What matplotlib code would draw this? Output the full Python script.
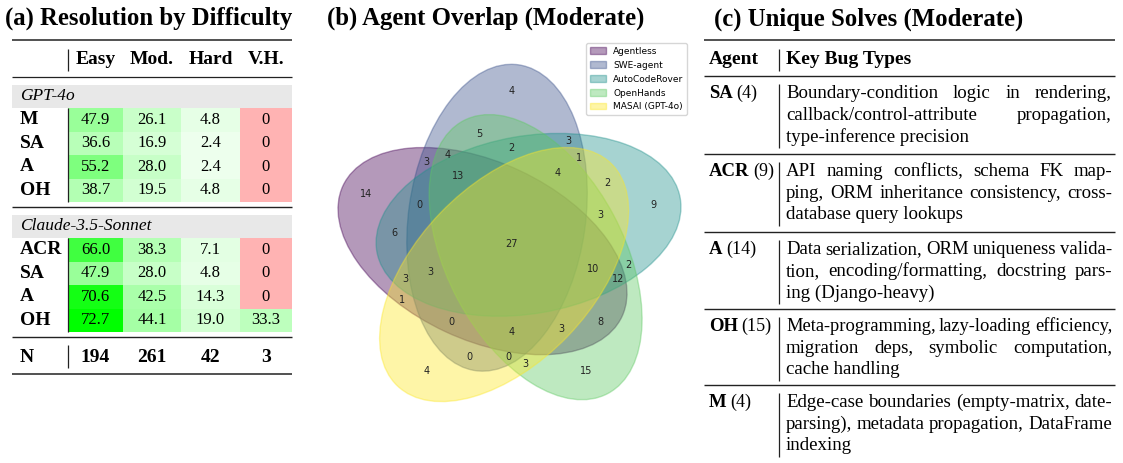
import numpy as np
import matplotlib
matplotlib.use('Agg')
import matplotlib.pyplot as plt
from matplotlib.patches import Rectangle, Ellipse, Patch

# ---- (a) resolution rates by difficulty ----
difficulties = ['Easy', 'Mod.', 'Hard', 'V.H.']
gpt_agents = ['M', 'SA', 'A', 'OH']
gpt_rates = [[47.9, 26.1, 4.8, 0], [36.6, 16.9, 2.4, 0],
             [55.2, 28.0, 2.4, 0], [38.7, 19.5, 4.8, 0]]
claude_agents = ['ACR', 'SA', 'A', 'OH']
claude_rates = [[66.0, 38.3, 7.1, 0], [47.9, 28.0, 4.8, 0],
                [70.6, 42.5, 14.3, 0], [72.7, 44.1, 19.0, 33.3]]
n_tasks = [194, 261, 42, 3]

# ---- (b) venn overlap (region key: Agentless, SWE, ACR, OH, MASAI) ----
venn_names = ['Agentless', 'SWE-agent', 'AutoCodeRover', 'OpenHands', 'MASAI (GPT-4o)']
venn_counts = {
    '00001': 4, '00010': 15, '00011': 3, '00100': 9, '00101': 2, '00110': 2,
    '00111': 3, '01000': 4, '01001': 0, '01010': 5, '01011': 0, '01100': 3,
    '01101': 1, '01110': 2, '01111': 4, '10000': 14, '10001': 1, '10010': 8,
    '10011': 3, '10100': 6, '10101': 3, '10110': 12, '10111': 10, '11000': 3,
    '11001': 0, '11010': 4, '11011': 4, '11100': 0, '11101': 3, '11110': 13,
    '11111': 27,
}

# ---- (c) unique solves ----
unique_agents = ['SA', 'ACR', 'A', 'OH', 'M']
unique_counts = [4, 9, 14, 15, 4]
unique_lines = [
    ['Boundary-condition logic in rendering,',
     'callback/control-attribute propagation,',
     'type-inference precision'],
    ['API naming conflicts, schema FK map-',
     'ping, ORM inheritance consistency, cross-',
     'database query lookups'],
    ['Data serialization, ORM uniqueness valida-',
     'tion, encoding/formatting, docstring pars-',
     'ing (Django-heavy)'],
    ['Meta-programming, lazy-loading efficiency,',
     'migration deps, symbolic computation,',
     'cache handling'],
    ['Edge-case boundaries (empty-matrix, date-',
     'parsing), metadata propagation, DataFrame',
     'indexing'],
]

plt.rcParams['font.family'] = 'Liberation Serif'

W, H = 1123, 463
fig = plt.figure(figsize=(W / 100, H / 100), dpi=100)
ax = fig.add_axes([0, 0, 1, 1])
ax.set_xlim(0, W)
ax.set_ylim(H, 0)
ax.axis('off')
renderer = fig.canvas.get_renderer()
RULE = '#222222'
fs_num = 12      # numbers in table (a)
fs_bold = 14     # bold labels / headers
fs_ital = 12.5   # group names
fs_title = 17.8
fs_c = 13.6      # body text of table (c)


def text_width(s, **kw):
    t = ax.text(0, 0, s, **kw)
    w = t.get_window_extent(renderer).width
    t.remove()
    return w


def cell_color(v):
    if v == 0:
        return (1.0, 0.70, 0.70)
    k = np.interp(v, [0, 5, 20, 28, 38, 45, 55, 66, 72.7],
                  [0.04, 0.10, 0.18, 0.22, 0.29, 0.36, 0.5, 0.75, 1.0])
    return (1 - k, 1.0, 1 - k)


def fmt(v):
    return '0' if v == 0 else f'{v:.1f}'


def justify(x0, x1, y, line, fs, min_gap=4.0):
    words = line.split(' ')
    widths = [text_width(w, fontsize=fs) for w in words]
    room = x1 - x0 - min_gap * (len(words) - 1)
    if sum(widths) > room:
        fs = fs * room / sum(widths)
        widths = [text_width(w, fontsize=fs) for w in words]
    gap = (x1 - x0 - sum(widths)) / (len(words) - 1)
    x = x0
    for w, wd in zip(words, widths):
        ax.text(x, y, w, fontsize=fs, va='center')
        x += wd + gap


# ---------------- panel (a) ----------------
TA_L, TA_R = 12, 292
col_edges = [68, 123, 181, 240, 292]
row_h = 23.5
ax.text(5, 18, '(a) Resolution by Difficulty', fontsize=fs_title, fontweight='bold', va='center')
ax.hlines(40, TA_L, TA_R, lw=1.1, color=RULE)
for j, d in enumerate(difficulties):
    ax.text((col_edges[j] + col_edges[j + 1]) / 2, 60, d, ha='center', va='center',
            fontweight='bold', fontsize=fs_bold)
ax.vlines(68, 49, 71, lw=0.9, color=RULE)
ax.hlines(77, TA_L, TA_R, lw=0.9, color=RULE)

groups = [('GPT-4o', gpt_agents, gpt_rates, 85, 207),
          ('Claude-3.5-Sonnet', claude_agents, claude_rates, 215, 337)]
for gname, agents, rates, top, rule_y in groups:
    ax.add_patch(Rectangle((TA_L, top), TA_R - TA_L, 23, color='#e8e8e8', lw=0))
    ax.text(20, top + 11.5, gname, style='italic', fontsize=fs_ital, va='center')
    y0 = top + 23
    for i, (agent, vals) in enumerate(zip(agents, rates)):
        y = y0 + i * row_h
        ax.text(20, y + row_h / 2, agent, fontweight='bold', fontsize=fs_bold, va='center')
        for j, v in enumerate(vals):
            ax.add_patch(Rectangle((col_edges[j], y), col_edges[j + 1] - col_edges[j], row_h,
                                   color=cell_color(v), lw=0))
            ax.text((col_edges[j] + col_edges[j + 1]) / 2, y + row_h / 2, fmt(v),
                    ha='center', va='center', fontsize=fs_num)
    ax.vlines(68, y0, y0 + 4 * row_h, lw=0.9, color=RULE)
    ax.hlines(rule_y, TA_L, TA_R, lw=1.0, color=RULE)

ax.text(20, 357, 'N', fontweight='bold', fontsize=fs_bold, va='center')
for j, n in enumerate(n_tasks):
    ax.text((col_edges[j] + col_edges[j + 1]) / 2, 357, str(n), ha='center', va='center',
            fontweight='bold', fontsize=fs_bold)
ax.vlines(68, 345, 368, lw=0.9, color=RULE)
ax.hlines(374, TA_L, TA_R, lw=1.1, color=RULE)

# ---------------- panel (b) ----------------
ax.text(486, 18, '(b) Agent Overlap (Moderate)', fontsize=fs_title, fontweight='bold',
        va='center', ha='center')
vax = fig.add_axes([331 / W, (H - 410.5) / H, 354 / W, 355 / H])
vax.set_xlim(0, 1)
vax.set_ylim(0, 1)
vax.axis('off')
venn_colors = [(*c[:3], 0.4) for c in plt.cm.viridis(np.linspace(0, 1, 5))]
ellipses = [(0.428, 0.449, 155.0), (0.469, 0.543, 82.0), (0.558, 0.523, 10.0),
            (0.578, 0.432, 118.0), (0.489, 0.383, 46.0)]
for (cx, cy, ang), c in zip(ellipses, venn_colors):
    vax.add_patch(Ellipse((cx, cy), 0.87, 0.50, angle=ang, color=c))
label_pos = {
    '00001': (0.27, 0.11), '00010': (0.72, 0.11), '00011': (0.55, 0.13),
    '00100': (0.91, 0.58), '00101': (0.78, 0.64), '00110': (0.84, 0.41),
    '00111': (0.76, 0.55), '01000': (0.51, 0.90), '01001': (0.39, 0.15),
    '01010': (0.42, 0.78), '01011': (0.50, 0.15), '01100': (0.67, 0.76),
    '01101': (0.70, 0.71), '01110': (0.51, 0.74), '01111': (0.64, 0.67),
    '10000': (0.10, 0.61), '10001': (0.20, 0.31), '10010': (0.76, 0.25),
    '10011': (0.65, 0.23), '10100': (0.18, 0.50), '10101': (0.21, 0.37),
    '10110': (0.81, 0.37), '10111': (0.74, 0.40), '11000': (0.27, 0.70),
    '11001': (0.34, 0.25), '11010': (0.33, 0.72), '11011': (0.51, 0.22),
    '11100': (0.25, 0.58), '11101': (0.28, 0.39), '11110': (0.36, 0.66),
    '11111': (0.51, 0.47),
}
for key, n in venn_counts.items():
    x, y = label_pos[key]
    vax.text(x, y, str(n), ha='center', va='center', fontsize=7,
             family='DejaVu Sans', color='#222222')
handles = [Patch(color=c, label=nm) for c, nm in zip(venn_colors, venn_names)]
fig.legend(handles=handles, loc='upper right', bbox_to_anchor=(687 / W, 1 - 43 / H),
           prop={'family': 'DejaVu Sans', 'size': 6.5}, borderaxespad=0,
           handlelength=1.8, labelspacing=0.55)

# ---------------- panel (c) ----------------
TC_L, TC_R = 704, 1115
TX_L, TX_R = 786, 1112
ax.text(714, 19, '(c) Unique Solves (Moderate)', fontsize=fs_title, fontweight='bold', va='center')
ax.hlines(40, TC_L, TC_R, lw=1.1, color=RULE)
ax.text(709, 60, 'Agent', fontweight='bold', fontsize=fs_bold, va='center')
ax.vlines(779, 49, 71, lw=0.9, color=RULE)
ax.text(TX_L, 60, 'Key Bug Types', fontweight='bold', fontsize=fs_bold, va='center')
ax.hlines(76, TC_L, TC_R, lw=1.0, color=RULE)

row_tops = [76, 154, 232, 309, 385]
line_h = 21.7
for i, (agent, cnt, lines) in enumerate(zip(unique_agents, unique_counts, unique_lines)):
    top = row_tops[i]
    if i > 0:
        ax.hlines(top, TC_L, TC_R, lw=1.0, color=RULE)
    y1 = top + 17.5
    ax.text(709, y1, agent, fontweight='bold', fontsize=fs_bold - 0.5, va='center')
    wb = text_width(agent, fontweight='bold', fontsize=fs_bold - 0.5)
    ax.text(709 + wb + 3.5, y1, f'({cnt})', fontsize=13, va='center')
    ax.vlines(779, top + 8, top + 72, lw=0.9, color=RULE)
    for k, line in enumerate(lines):
        y = y1 + k * line_h
        if k == len(lines) - 1:
            ax.text(TX_L, y, line, fontsize=fs_c, va='center')
        else:
            justify(TX_L, TX_R, y, line, fs_c)

fig.savefig('out.png', dpi=100)
